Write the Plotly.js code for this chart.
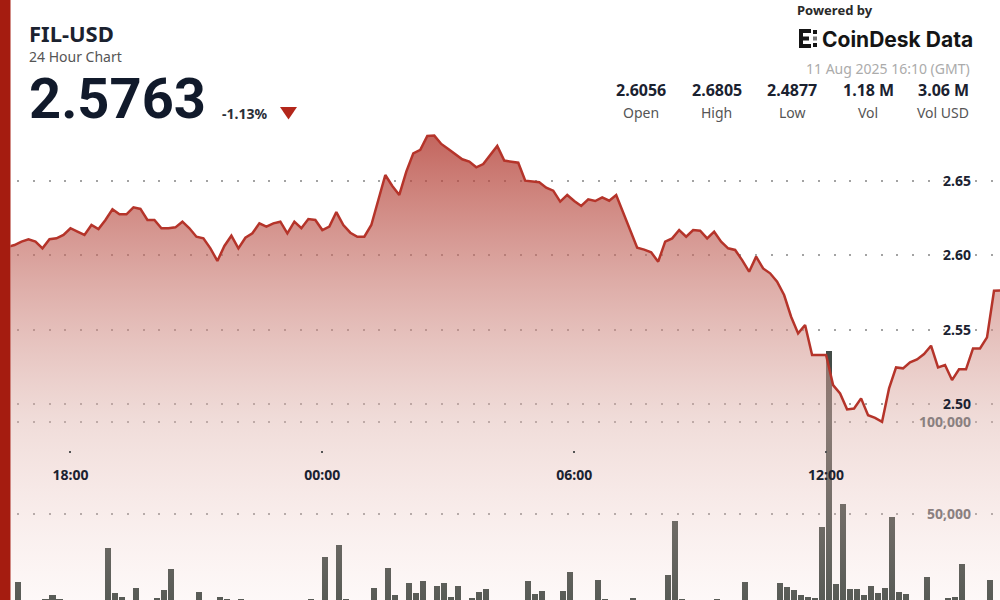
<!DOCTYPE html>
<html>
<head>
<meta charset="utf-8">
<script src="https://cdn.plot.ly/plotly-3.0.1.min.js"></script>
<style>
  html, body { margin: 0; padding: 0; background: #ffffff; }
  #chart { width: 1000px; height: 600px; }
</style>
</head>
<body>
<div id="chart"></div>
<script>
// ---- Data (10-minute samples, 2025-08-10 16:30 -> 2025-08-11 16:10 GMT) ----
const startTime = '2025-08-10 16:30';
const stepMinutes = 10;

const prices = [
  2.6056, 2.6069, 2.6092, 2.6108, 2.6092, 2.6047, 2.6108, 2.6114, 2.6137,           // 16:30-17:50
  2.6182, 2.6159, 2.6137, 2.6204, 2.6177, 2.6238,                                   // 18:00-18:50
  2.6310, 2.6276, 2.6276, 2.6323, 2.6312, 2.6238,                                   // 19:00-19:50
  2.6238, 2.6182, 2.6182, 2.6188, 2.6226, 2.6182,                                   // 20:00-20:50
  2.6125, 2.6114, 2.6047, 2.5962, 2.6063, 2.6132,                                   // 21:00-21:50
  2.6047, 2.6118, 2.6148, 2.6215, 2.6193, 2.6215,                                   // 22:00-22:50
  2.6226, 2.6148, 2.6226, 2.6182, 2.6244, 2.6238,                                   // 23:00-23:50
  2.6170, 2.6193, 2.6291, 2.6204, 2.6152, 2.6125,                                   // 00:00-00:50
  2.6125, 2.6204, 2.6372, 2.6540, 2.6466, 2.6406,                                   // 01:00-01:50
  2.6563, 2.6686, 2.6709, 2.6803, 2.6805, 2.6749,                                   // 02:00-02:50
  2.6715, 2.6680, 2.6646, 2.6630, 2.6592, 2.6614,                                   // 03:00-03:50
  2.6675, 2.6736, 2.6637, 2.6630, 2.6623, 2.6502,                                   // 04:00-04:50
  2.6495, 2.6491, 2.6455, 2.6435, 2.6361, 2.6406,                                   // 05:00-05:50
  2.6365, 2.6332, 2.6377, 2.6365, 2.6390, 2.6367,                                   // 06:00-06:50
  2.6406, 2.6287, 2.6170, 2.6051, 2.6038, 2.6020,                                   // 07:00-07:50
  2.5957, 2.6092, 2.6114, 2.6170, 2.6125, 2.6170,                                   // 08:00-08:50
  2.6166, 2.6114, 2.6159, 2.6092, 2.6047, 2.6036,                                   // 09:00-09:50
  2.5968, 2.5890, 2.5991, 2.5912, 2.5879, 2.5822,                                   // 10:00-10:50
  2.5733, 2.5587, 2.5475, 2.5531, 2.5329, 2.5329,                                   // 11:00-11:50
  2.5329, 2.5127, 2.5071, 2.4964, 2.4970, 2.5038,                                   // 12:00-12:50
  2.4925, 2.4907, 2.4880, 2.5105, 2.5246, 2.5240,                                   // 13:00-13:50
  2.5280, 2.5300, 2.5336, 2.5392, 2.5246, 2.5262,                                   // 14:00-14:50
  2.5161, 2.5233, 2.5233, 2.5374, 2.5374, 2.5448,                                   // 15:00-15:50
  2.5762, 2.5763                                                                    // 16:00-16:10
];

const volumes = [
  2600, 13500, 2900, 2400, 3000, 4100, 6300, 4100, 2700,                            // 16:30-17:50
  2200, 2500, 2800, 2300, 2600, 31600,                                              // 18:00-18:50
  7550, 5000, 2900, 10250, 2400, 2700,                                              // 19:00-19:50
  4500, 9000, 20200, 2600, 2300, 2800,                                              // 20:00-20:50
  7750, 3000, 2500, 5400, 4100, 2700,                                               // 21:00-21:50
  4100, 2400, 2200, 2600, 2900, 2300,                                               // 22:00-22:50
  2500, 2800, 2400, 2700, 4100, 2900,                                               // 23:00-23:50
  27000, 3000, 33400, 4100, 2600, 2400,                                             // 00:00-00:50
  2800, 9900, 2700, 21100, 6300, 3000,                                              // 01:00-01:50
  12950, 7200, 14000, 2900, 11150, 12600,                                           // 02:00-02:50
  5400, 11150, 3000, 4500, 7750, 9550,                                              // 03:00-03:50
  2800, 2600, 2400, 2700, 3000, 14000,                                              // 04:00-04:50
  6800, 8600, 2900, 3000, 8600, 18600,                                              // 05:00-05:50
  2700, 2500, 2800, 14400, 4100, 2600,                                              // 06:00-06:50
  2400, 2900, 4500, 2700, 2300, 2600,                                               // 07:00-07:50
  2900, 17100, 46500, 3950, 2700, 2500,                                             // 08:00-08:50
  2800, 2400, 3950, 2600, 2900, 3000,                                               // 09:00-09:50
  13500, 2700, 2500, 2800, 3000, 12600,                                             // 10:00-10:50
  10450, 9000, 6300, 5400, 4500, 42950,                                             // 11:00-11:50
  138600, 12250, 55600, 9350, 9350, 6300,                                           // 12:00-12:50
  11150, 7550, 10250, 48700, 7750, 6650,                                            // 13:00-13:50
  3000, 2800, 15850, 2900, 2600, 4800,                                              // 14:00-14:50
  5400, 23050, 3000, 2700, 2900, 14400,                                             // 15:00-15:50
  3000, 2600                                                                        // 16:00-16:10
];

const timeTickVals = ['2025-08-10 18:00', '2025-08-11 00:00', '2025-08-11 06:00', '2025-08-11 12:00'];
const timeTickText = ['18:00', '00:00', '06:00', '12:00'];
const priceTickVals = [2.50, 2.55, 2.60, 2.65];
const priceTickText = ['2.50', '2.55', '2.60', '2.65'];
const volTickVals = [50000, 100000];
const volTickText = ['50,000', '100,000'];

const statValues = ['2.6056', '2.6805', '2.4877', '1.18 M', '3.06 M'];
const statLabels = ['Open', 'High', 'Low', 'Vol', 'Vol USD'];

const symbol = 'FIL-USD';
const subtitle = '24 Hour Chart';
const lastPrice = '2.5763';
const changePct = '-1.13%';
const stampText = '11 Aug 2025 16:10 (GMT)';

// ---- build timestamps ----
function pad(n) { return (n < 10 ? '0' : '') + n; }
function buildTimes(start, n, step) {
  const [d, t] = start.split(' ');
  const [Y, M, D] = d.split('-').map(Number);
  const [h, m] = t.split(':').map(Number);
  const base = Date.UTC(Y, M - 1, D, h, m);
  const out = [];
  for (let i = 0; i < n; i++) {
    const dt = new Date(base + i * step * 60000);
    out.push(dt.getUTCFullYear() + '-' + pad(dt.getUTCMonth() + 1) + '-' + pad(dt.getUTCDate()) + ' ' +
             pad(dt.getUTCHours()) + ':' + pad(dt.getUTCMinutes()));
  }
  return out;
}
const times = buildTimes(startTime, prices.length, stepMinutes);

// ---- helpers: pixel -> paper ----
const W = 1000, H = 600;
const px = x => x / W;
const py = y => 1 - y / H;

const FONT = 'Noto Sans, Open Sans, sans-serif';
const DARK = '#1b2230';

const volTrace = {
  type: 'bar', x: times, y: volumes, xaxis: 'x', yaxis: 'y',
  marker: { color: '#434c47', line: { width: 0 } },
  width: 8.6 * 60000, offset: 0,
  hoverinfo: 'skip', showlegend: false
};

const priceTrace = {
  type: 'scatter', mode: 'lines', x: times, y: prices, xaxis: 'x', yaxis: 'y2',
  line: { color: '#b5342a', width: 2.5 },
  fill: 'tozeroy',
  fillgradient: {
    type: 'vertical', start: 2.3682, stop: 2.681,
    colorscale: [
      [0, 'rgba(240,200,195,0.12)'],
      [0.387, 'rgba(222,179,172,0.46)'],
      [1, 'rgba(175,50,40,0.75)']
    ]
  },
  hoverinfo: 'skip', showlegend: false
};

const gridDash = '0px,6.7px,2px,7px';

const annotations = [
  { text: '<b>' + symbol + '</b>', x: px(28), y: py(32.5), xanchor: 'left', yanchor: 'middle',
    font: { family: FONT, size: 22, color: DARK } },
  { text: subtitle, x: px(28), y: py(56), xanchor: 'left', yanchor: 'middle',
    font: { family: FONT, size: 14, color: '#555555' } },
  { text: '<b>' + lastPrice + '</b>', x: px(28), y: py(99), xanchor: 'left', yanchor: 'middle',
    height: 46, valign: 'middle',
    font: { family: 'Roboto, Noto Sans, sans-serif', size: 56, color: '#111a2b' } },
  { text: '<b>' + changePct + '</b>', x: px(221), y: py(113.5), xanchor: 'left', yanchor: 'middle',
    font: { family: FONT, size: 14, color: '#2a2f38' } },
  { text: '<b>Powered by</b>', x: px(796), y: py(10), xanchor: 'left', yanchor: 'middle',
    font: { family: FONT, size: 13, color: '#2a2a2a' } },
  { text: '<b>CoinDesk Data</b>', x: px(821), y: py(39.5), xanchor: 'left', yanchor: 'middle',
    font: { family: 'Inter, Noto Sans, sans-serif', size: 21, color: '#151515' } },
  { text: stampText, x: px(971), y: py(68.5), xanchor: 'right', yanchor: 'middle',
    font: { family: FONT, size: 14, color: '#ababab' } }
];
const statCenters = [640.5, 716.5, 792, 868, 943];
statValues.forEach((v, i) => {
  annotations.push({ text: '<b>' + v + '</b>', x: px(statCenters[i]), y: py(90), xanchor: 'center', yanchor: 'middle',
    font: { family: FONT, size: 16, color: DARK } });
  annotations.push({ text: statLabels[i], x: px(statCenters[i]), y: py(112.5), xanchor: 'center', yanchor: 'middle',
    font: { family: FONT, size: 14, color: '#555555' } });
});
annotations.forEach(a => { a.xref = 'paper'; a.yref = 'paper'; a.showarrow = false; a.borderpad = 0; });

function rectPx(x0, y0, x1, y1, color) {
  return { type: 'rect', xref: 'paper', yref: 'paper', x0: px(x0), x1: px(x1), y0: py(y1), y1: py(y0),
           fillcolor: color, line: { width: 0 }, layer: 'above' };
}
const ICON = '#151515';
const shapes = [
  rectPx(0, 0, 10.5, 600, '#a51c10'),
  { type: 'path', xref: 'paper', yref: 'paper', layer: 'above',
    path: 'M ' + px(280) + ' ' + py(107) + ' L ' + px(297) + ' ' + py(107) + ' L ' + px(288.5) + ' ' + py(119.5) + ' Z',
    fillcolor: '#b3261a', line: { width: 0 } },
  // CoinDesk icon (approximation)
  rectPx(799, 29, 803, 48, ICON),
  rectPx(799, 29, 811, 33, ICON),
  rectPx(799, 44, 811, 48, ICON),
  rectPx(803, 36.5, 809, 40.5, ICON),
  rectPx(813, 30, 817, 34, ICON),
  rectPx(813, 43, 817, 47, ICON),
  rectPx(813, 36.5, 817, 40.5, '#777777')
];

const layout = {
  width: W, height: H,
  margin: { l: 0, r: 0, t: 0, b: 0, pad: 0 },
  paper_bgcolor: '#ffffff', plot_bgcolor: '#ffffff',
  showlegend: false,
  bargap: 0,
  xaxis: {
    type: 'date', domain: [0.0105, 1],
    range: ['2025-08-10 16:34:17', '2025-08-11 16:08:34'],
    anchor: 'free', position: 0.25,
    tickmode: 'array', tickvals: timeTickVals, ticktext: timeTickText,
    ticks: 'outside', ticklen: 2, tickwidth: 2, tickcolor: '#555555',
    ticklabelstandoff: 10,
    tickfont: { family: FONT, size: 14, color: DARK, weight: 700 },
    showgrid: false, zeroline: false, showline: false, fixedrange: true
  },
  yaxis: {
    range: [3575, 328600], side: 'right', anchor: 'x',
    tickmode: 'array', tickvals: volTickVals, ticktext: volTickText,
    ticklabelposition: 'inside', ticklabelstandoff: 26, ticks: '',
    tickfont: { family: FONT, size: 14, color: '#8a8080', weight: 700 },
    showgrid: true, gridcolor: '#a3a3a3', gridwidth: 2, griddash: gridDash,
    zeroline: false, showline: false, fixedrange: true
  },
  yaxis2: {
    range: [2.3682, 2.7717], side: 'right', anchor: 'x', overlaying: 'y',
    tickmode: 'array', tickvals: priceTickVals, ticktext: priceTickText,
    ticklabelposition: 'inside', ticklabelstandoff: 26, ticks: '',
    tickfont: { family: FONT, size: 14, color: DARK, weight: 700 },
    showgrid: true, gridcolor: '#a3a3a3', gridwidth: 2, griddash: gridDash,
    zeroline: false, showline: false, fixedrange: true
  },
  annotations: annotations,
  shapes: shapes
};

Plotly.newPlot('chart', [volTrace, priceTrace], layout, { staticPlot: true, displayModeBar: false });
</script>
</body>
</html>
